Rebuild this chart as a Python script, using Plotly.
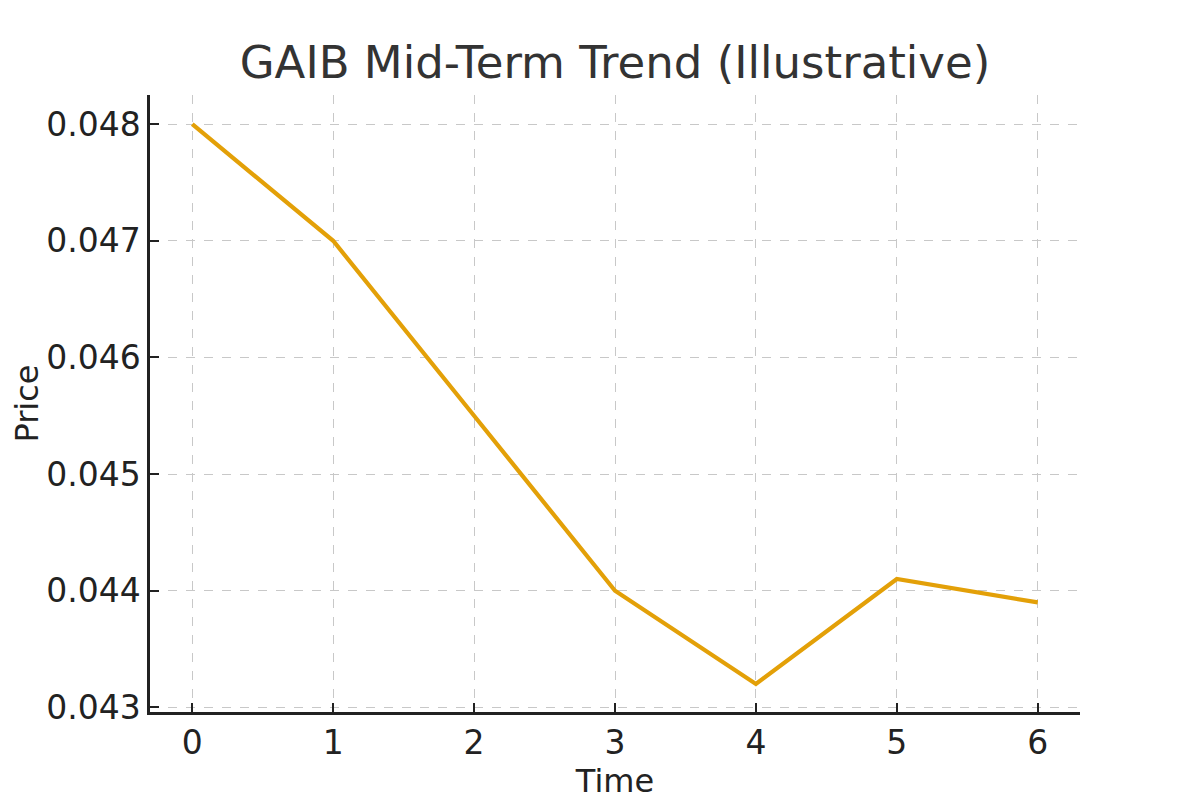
import plotly.graph_objects as go

time = [0, 1, 2, 3, 4, 5, 6]
price = [0.048, 0.047, 0.0455, 0.044, 0.0432, 0.0441, 0.0439]
x_ticks = [0, 1, 2, 3, 4, 5, 6]
y_ticks = [0.043, 0.044, 0.045, 0.046, 0.047, 0.048]
y_tick_labels = ["0.043", "0.044", "0.045", "0.046", "0.047", "0.048"]

fig = go.Figure()
fig.add_trace(go.Scatter(x=time, y=price, mode="lines",
                         line=dict(color="#E3A008", width=4.2), showlegend=False))

# page body has an 8px margin, so the figure is offset by 8px
W, H = 1192, 792
font_family = "DejaVu Sans"
fig.update_layout(
    width=W, height=H,
    margin=dict(l=142, r=120, t=87, b=88),
    paper_bgcolor="white", plot_bgcolor="white",
    title=dict(text="GAIB Mid-Term Trend (Illustrative)", x=607/W, xanchor="center",
               y=1-54/H, yanchor="middle",
               font=dict(family=font_family, size=45, color="#333333")),
    font=dict(family=font_family, color="#222222"),
)
fig.update_xaxes(
    range=[-0.3, 6.3], tickvals=x_ticks, ticktext=[str(t) for t in x_ticks],
    tickfont=dict(size=33, color="#222222"),
    title=dict(text="Time", font=dict(size=32, color="#222222"), standoff=6),
    showline=True, linecolor="#222222", linewidth=2.5,
    ticks="inside", ticklen=9, tickwidth=2, tickcolor="#222222",
    showgrid=True, gridcolor="#c8c8c8", griddash="dash", gridwidth=1.3,
    zeroline=False, automargin=False,
)
fig.update_yaxes(
    range=[0.04296, 0.04825], tickvals=y_ticks, ticktext=y_tick_labels,
    tickfont=dict(size=33, color="#222222"),
    title=dict(text="Price", font=dict(size=32, color="#222222"), standoff=22),
    showline=True, linecolor="#222222", linewidth=2.5,
    ticks="inside", ticklen=9, tickwidth=2, tickcolor="#222222",
    showgrid=True, gridcolor="#c8c8c8", griddash="dash", gridwidth=1.3,
    zeroline=False, automargin=False,
)
fig.write_html("out.html")
